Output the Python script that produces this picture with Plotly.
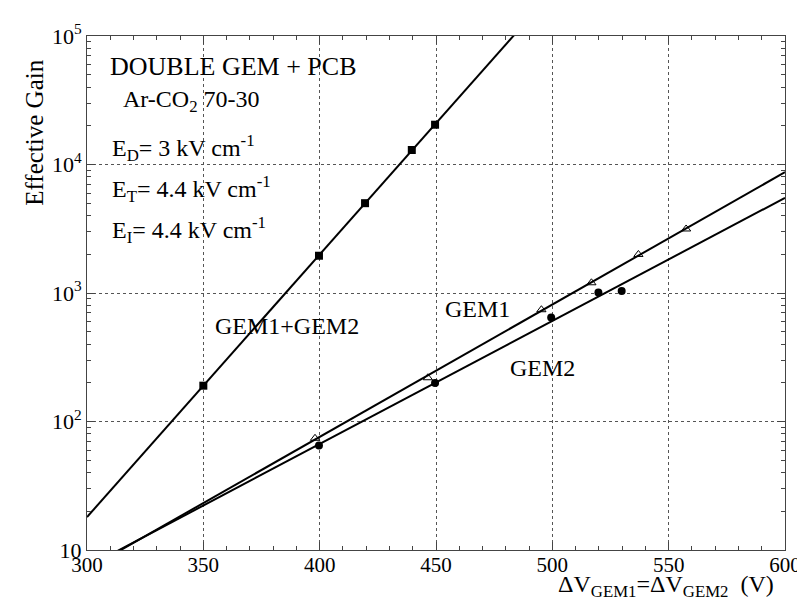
import numpy as np
import plotly.graph_objects as go

# ---- data ----
v_both = [350, 399.7, 419.5, 439.6, 449.6]
g_both = [190, 1950, 5000, 12970, 20400]

v_gem1 = [398, 446.5, 495.3, 516.8, 537, 557.5]
g_gem1 = [74, 219, 741, 1201, 1995, 3150]

v_gem2 = [399.7, 449.6, 499.5, 519.8, 529.8]
g_gem2 = [65, 199, 646, 1007, 1036]

x_ticks = [300, 350, 400, 450, 500, 550, 600]
y_ticks = [10, 100, 1000, 10000, 100000]
y_ticktext = ["10", "10<sup>2</sup>", "10<sup>3</sup>", "10<sup>4</sup>", "10<sup>5</sup>"]

FONT = "Liberation Serif, Times New Roman, serif"

fig = go.Figure()

def fit_line(vx, gy):
    p = np.polyfit(np.array(vx), np.log10(np.array(gy)), 1)
    xs = np.linspace(x_ticks[0], x_ticks[-1], 61)
    return xs, 10 ** np.polyval(p, xs)

for vx, gy in [(v_both, g_both), (v_gem1, g_gem1), (v_gem2, g_gem2)]:
    xs, ys = fit_line(vx, gy)
    fig.add_trace(go.Scatter(x=xs, y=ys, mode="lines",
                             line=dict(color="black", width=2), showlegend=False,
                             hoverinfo="skip"))

fig.add_trace(go.Scatter(x=v_both, y=g_both, mode="markers",
                         marker=dict(symbol="square", size=8, color="black"),
                         showlegend=False, cliponaxis=False))
fig.add_trace(go.Scatter(x=v_gem1, y=g_gem1, mode="markers",
                         marker=dict(symbol="triangle-up-open", size=8, color="black",
                                     line=dict(width=1, color="black")),
                         showlegend=False, cliponaxis=False))
fig.add_trace(go.Scatter(x=v_gem2, y=g_gem2, mode="markers",
                         marker=dict(symbol="circle", size=8, color="black"),
                         showlegend=False, cliponaxis=False))

axis_common = dict(
    showline=True, linecolor="#444", linewidth=1, mirror="ticks",
    ticks="inside", ticklen=8, tickcolor="#444", tickwidth=1,
    showgrid=True, gridcolor="#555", gridwidth=1, griddash="dot",
    zeroline=False,
)

fig.update_xaxes(range=[300, 600], tickmode="array", tickvals=x_ticks,
                 ticktext=[str(t) for t in x_ticks],
                 tickfont=dict(family=FONT, size=21, color="black"),
                 ticklabelstandoff=-4,
                 minor=dict(dtick=10, ticks="inside", ticklen=4, tickcolor="#444",
                            showgrid=False),
                 **axis_common)
fig.update_yaxes(type="log", range=[1, 5], tickmode="array", tickvals=y_ticks,
                 ticktext=y_ticktext,
                 tickfont=dict(family=FONT, size=22, color="black"),
                 minor=dict(dtick="D1", ticks="inside", ticklen=4, tickcolor="#444",
                            showgrid=False),
                 **axis_common)

def txt(x, y, s, size, xanchor="left", xref="x", yref="y", angle=0, yanchor="middle"):
    fig.add_annotation(x=x, y=y, xref=xref, yref=yref, text=s, showarrow=False,
                       xanchor=xanchor, yanchor=yanchor, textangle=angle,
                       font=dict(family=FONT, size=size, color="black"))

txt(308.9, 4.761, "DOUBLE GEM + PCB", 26)
txt(314.4, 4.495, "Ar-CO<sub>2</sub> 70-30", 24)
txt(309.8, 4.129, "E<sub>D</sub>= 3 kV cm<sup>-1</sup>", 24)
txt(309.8, 3.813, "E<sub>T</sub>= 4.4 kV cm<sup>-1</sup>", 24)
txt(309.8, 3.489, "E<sub>I</sub>= 4.4 kV cm<sup>-1</sup>", 24)
txt(385.9, 2.742, "GEM1+GEM2", 24, xanchor="center")
txt(468.0, 2.877, "GEM1", 24, xanchor="center")
txt(495.8, 2.414, "GEM2", 24, xanchor="center")
txt(0.829, -0.036, "ΔV<sub>GEM1</sub>=ΔV<sub>GEM2</sub>  (V)", 24,
    xanchor="center", xref="paper", yref="paper", yanchor="top")
txt(-0.0764, 0.811, "Effective Gain", 25, xanchor="center",
    xref="paper", yref="paper", angle=-90)

fig.update_layout(
    width=805, height=598,
    margin=dict(l=79, r=19, t=23, b=56),
    paper_bgcolor="white", plot_bgcolor="white",
    font=dict(family=FONT, color="black"),
    showlegend=False,
)

fig.write_html("out.html")
